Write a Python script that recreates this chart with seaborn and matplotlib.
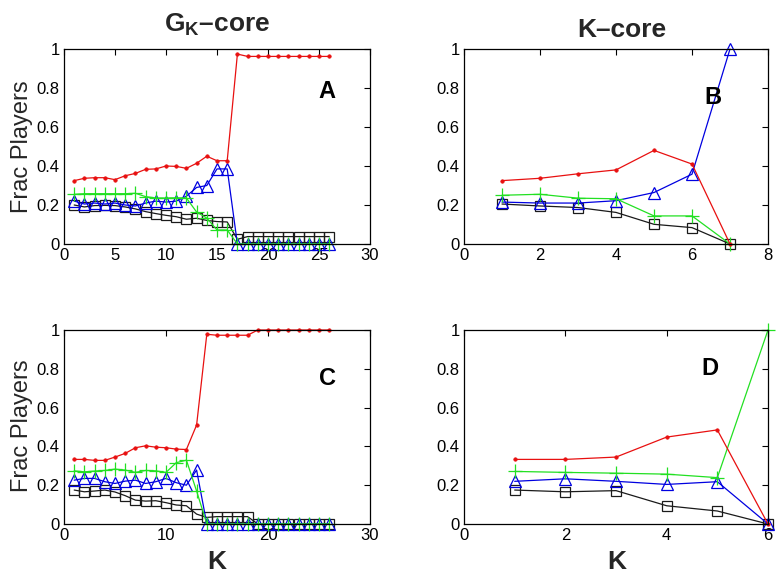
import matplotlib
matplotlib.use("Agg")
import matplotlib.pyplot as plt
import seaborn as sns
import pandas as pd
from matplotlib.ticker import FuncFormatter, MultipleLocator

sns.set_theme(style="white")
plt.rcParams['font.family'] = ['Liberation Sans', 'DejaVu Sans']
plt.rcParams['mathtext.fontset'] = 'custom'
plt.rcParams['mathtext.rm'] = 'Liberation Sans'
plt.rcParams['mathtext.bf'] = 'Liberation Sans:bold'

# ---------------- data ----------------
kA = list(range(1, 27))
A_red = [0.325, 0.337, 0.34, 0.34, 0.33, 0.35, 0.362, 0.383, 0.385, 0.40, 0.398, 0.388, 0.414,
         0.45, 0.427, 0.427, 0.974, 0.962, 0.962, 0.962, 0.962, 0.962, 0.962, 0.962, 0.962, 0.962]
A_green = [0.255, 0.258, 0.258, 0.258, 0.258, 0.258, 0.26, 0.243, 0.236, 0.236, 0.237, 0.236, 0.164,
           0.133, 0.072, 0.072, 0, 0, 0, 0, 0, 0, 0, 0, 0, 0]
A_blue = [0.22, 0.205, 0.21, 0.205, 0.21, 0.20, 0.195, 0.21, 0.22, 0.215, 0.22, 0.245, 0.29,
          0.30, 0.385, 0.385, 0, 0, 0, 0, 0, 0, 0, 0, 0, 0]
A_black = [0.20, 0.19, 0.197, 0.198, 0.197, 0.19, 0.18, 0.166, 0.156, 0.147, 0.14, 0.127, 0.132,
           0.121, 0.115, 0.113, 0.024, 0.038, 0.038, 0.038, 0.038, 0.038, 0.038, 0.038, 0.038, 0.038]

kB = [1, 2, 3, 4, 5, 6, 7]
B_red = [0.325, 0.337, 0.36, 0.38, 0.48, 0.41, 0]
B_green = [0.25, 0.255, 0.235, 0.232, 0.144, 0.144, 0]
B_blue = [0.215, 0.21, 0.21, 0.222, 0.264, 0.358, 1.0]
B_black = [0.205, 0.195, 0.187, 0.162, 0.101, 0.084, 0]

kC = list(range(1, 27))
C_red = [0.333, 0.333, 0.328, 0.328, 0.345, 0.364, 0.393, 0.403, 0.396, 0.393, 0.386, 0.384, 0.51,
         0.978, 0.973, 0.973, 0.973, 0.973, 1.0, 1.0, 1.0, 1.0, 1.0, 1.0, 1.0, 1.0]
C_green = [0.274, 0.269, 0.273, 0.276, 0.283, 0.278, 0.266, 0.276, 0.274, 0.266, 0.316, 0.329, 0.17,
           0, 0, 0, 0, 0, 0, 0, 0, 0, 0, 0, 0, 0]
C_blue = [0.226, 0.235, 0.235, 0.218, 0.209, 0.221, 0.226, 0.209, 0.218, 0.235, 0.213, 0.20, 0.278,
          0, 0, 0, 0, 0, 0, 0, 0, 0, 0, 0, 0, 0]
C_black = [0.175, 0.166, 0.17, 0.175, 0.165, 0.146, 0.123, 0.118, 0.12, 0.11, 0.098, 0.094, 0.051,
           0.034, 0.038, 0.038, 0.038, 0.038, 0, 0, 0, 0, 0, 0, 0, 0]

kD = [1, 2, 3, 4, 5, 6]
D_red = [0.333, 0.333, 0.345, 0.448, 0.485, 0]
D_green = [0.271, 0.266, 0.262, 0.257, 0.239, 1.0]
D_blue = [0.22, 0.233, 0.22, 0.204, 0.218, 0]
D_black = [0.175, 0.166, 0.172, 0.094, 0.067, 0]

panels = [
    ("A", kA, A_red, A_green, A_blue, A_black, 30, 5),
    ("B", kB, B_red, B_green, B_blue, B_black, 8, 2),
    ("C", kC, C_red, C_green, C_blue, C_black, 30, 10),
    ("D", kD, D_red, D_green, D_blue, D_black, 6, 2),
]

W, H = 779, 575
fig = plt.figure(figsize=(W / 100, H / 100), dpi=100)

def frac_rect(l, r, t, b):
    return [l / W, 1 - b / H, (r - l) / W, (b - t) / H]

rects = {
    "A": frac_rect(64, 370, 49, 244),
    "B": frac_rect(464, 768, 49, 244),
    "C": frac_rect(64, 370, 330, 524),
    "D": frac_rect(464, 768, 330, 524),
}
letter_pos = {"A": (0.86, 0.78), "B": (0.82, 0.75), "C": (0.86, 0.75), "D": (0.81, 0.80)}

styles = [
    # name, color, marker, size, mfc, mew
    ("black", "#1a1a1a", "s", 7, "none", 0.9),
    ("blue", "#0000e0", "^", 9, "none", 0.9),
    ("green", "#22e022", "+", 10, "none", 0.9),
    ("red", "#e81010", "o", 2.5, "#e81010", 0.5),
]

fmt = FuncFormatter(lambda v, p: f"{v:g}")

for name, k, red, green, blue, black, xmax, xstep in panels:
    ax = fig.add_axes(rects[name])
    series = {"red": red, "green": green, "blue": blue, "black": black}
    for sname, col, mk, ms, mfc, mew in styles:
        df = pd.DataFrame({"K": k, "frac": series[sname]})
        sns.lineplot(data=df, x="K", y="frac", ax=ax, color=col, marker=mk,
                     markersize=ms, markerfacecolor=mfc, markeredgecolor=col,
                     markeredgewidth=mew, linewidth=0.9, clip_on=False, legend=False)
    ax.set_xlim(0, xmax)
    ax.set_ylim(0, 1)
    ax.xaxis.set_major_locator(MultipleLocator(xstep))
    ax.yaxis.set_major_locator(MultipleLocator(0.2))
    ax.xaxis.set_major_formatter(fmt)
    ax.yaxis.set_major_formatter(fmt)
    ax.set_xlabel("")
    ax.set_ylabel("")
    ax.tick_params(direction="in", length=4, width=0.8, top=True, right=True,
                   labelsize=12, colors="black", pad=3)
    for sp in ax.spines.values():
        sp.set_color("black")
        sp.set_linewidth(0.9)
    lx, ly = letter_pos[name]
    ax.text(lx, ly, name, transform=ax.transAxes, fontsize=17, fontweight="bold",
            ha="center", va="center", color="black")

fig.text(217 / W, 1 - 32 / H, r"G$_{\mathbf{K}}$–core", fontsize=19, fontweight="bold",
         ha="center", va="baseline")
fig.text(622 / W, 1 - 37 / H, "K–core", fontsize=19, fontweight="bold",
         ha="center", va="baseline")
fig.text(22 / W, 1 - 147 / H, "Frac Players", fontsize=17, rotation=90, ha="center", va="center")
fig.text(22 / W, 1 - 426 / H, "Frac Players", fontsize=17, rotation=90, ha="center", va="center")
fig.text(217 / W, 1 - 562 / H, "K", fontsize=19, fontweight="bold", ha="center", va="center")
fig.text(617 / W, 1 - 562 / H, "K", fontsize=19, fontweight="bold", ha="center", va="center")

fig.savefig("out.png", dpi=100)
